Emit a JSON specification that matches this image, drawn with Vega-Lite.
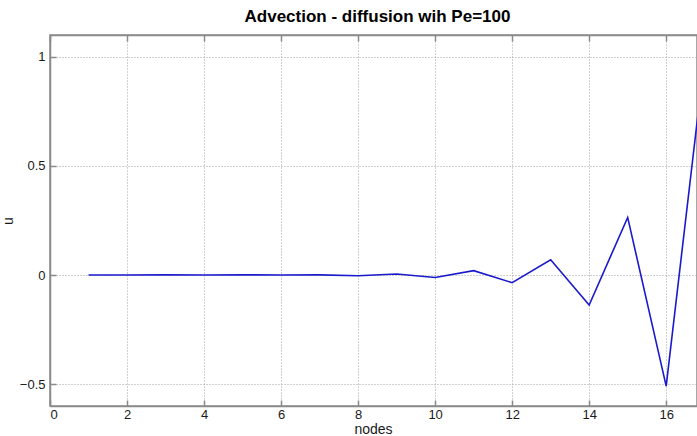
{
  "$schema": "https://vega.github.io/schema/vega-lite/v6.json",
  "width": 647,
  "height": 371,
  "autosize": {"type": "none"},
  "padding": {"left": 50, "top": 35, "right": 0, "bottom": 30},
  "background": "white",
  "config": {
    "font": "Liberation Sans",
    "view": {"stroke": "#8a8a8a", "strokeWidth": 1.5},
    "axis": {
      "domainColor": "#8a8a8a",
      "domainWidth": 1.5,
      "tickColor": "#8a8a8a",
      "tickWidth": 1.5,
      "tickSize": -6,
      "labelFont": "Liberation Sans",
      "labelFontSize": 13,
      "labelColor": "#1a1a1a",
      "titleFont": "Liberation Sans",
      "titleFontSize": 14,
      "titleFontWeight": "normal",
      "titleColor": "#1a1a1a",
      "gridColor": "#a0a0a0",
      "gridDash": [1, 2],
      "gridWidth": 1
    }
  },
  "title": {
    "text": "Advection - diffusion wih Pe=100",
    "font": "Liberation Sans",
    "fontSize": 17,
    "fontWeight": "bold",
    "color": "#000000",
    "anchor": "middle",
    "dx": 4,
    "offset": 8
  },
  "data": {
    "values": [
      {"node": 1, "u": 0.0},
      {"node": 2, "u": 0.0},
      {"node": 3, "u": 0.001},
      {"node": 4, "u": 0.0},
      {"node": 5, "u": 0.001},
      {"node": 6, "u": 0.0},
      {"node": 7, "u": 0.001},
      {"node": 8, "u": -0.003},
      {"node": 9, "u": 0.005},
      {"node": 10, "u": -0.011},
      {"node": 11, "u": 0.02},
      {"node": 12, "u": -0.035},
      {"node": 13, "u": 0.07},
      {"node": 14, "u": -0.137},
      {"node": 15, "u": 0.264},
      {"node": 16, "u": -0.509},
      {"node": 17, "u": 1.0}
    ]
  },
  "layer": [
    {
      "mark": {"type": "line", "color": "#1a1acc", "strokeWidth": 1.6, "clip": true},
      "encoding": {
        "x": {
          "field": "node", "type": "quantitative",
          "scale": {"domain": [0, 16.8], "nice": false, "zero": false},
          "axis": {"title": "nodes", "values": [0, 2, 4, 6, 8, 10, 12, 14, 16], "format": "~g", "labelPadding": 8, "titleY": 16, "titleX": 323}
        },
        "y": {
          "field": "u", "type": "quantitative",
          "scale": {"domain": [-0.6, 1.1], "nice": false, "zero": false},
          "axis": {"title": "u", "values": [-0.5, 0, 0.5, 1], "format": "~g", "labelPadding": 11, "titleX": -35}
        }
      }
    },
    {
      "mark": {"type": "line", "opacity": 0, "clip": true},
      "encoding": {
        "x": {
          "field": "node", "type": "quantitative",
          "scale": {"domain": [0, 16.8], "nice": false, "zero": false},
          "axis": {"orient": "top", "title": null, "labels": false, "grid": false, "values": [0, 2, 4, 6, 8, 10, 12, 14, 16]}
        },
        "y": {"field": "u", "type": "quantitative"}
      }
    }
  ],
  "resolve": {"axis": {"x": "independent", "y": "shared"}}
}
